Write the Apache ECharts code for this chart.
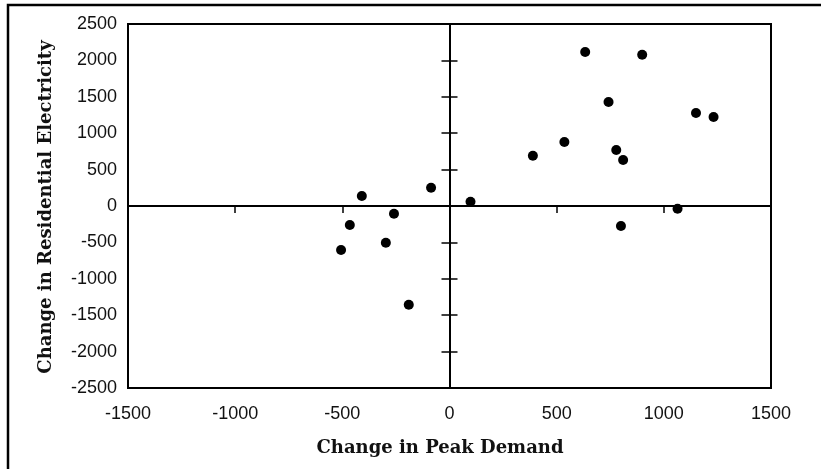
<!DOCTYPE html>
<html>
<head>
    <meta charset="UTF-8">
    <title>Peak demand vs residential electricity</title>
    <script src="https://cdn.jsdelivr.net/npm/echarts@6/dist/echarts.min.js"></script>
    <style>
        html, body { margin: 0; padding: 0; background: #fff; }
        #chart { width: 821px; height: 469px; }
    </style>
</head>
<body>
<div id="chart"></div>
<script>
    // change in peak demand (x) / change in residential electricity (y)
    const peakDemand = [633, 899, 742, 1150, 1232, 536, 389, 778, 810, -86, 98, 1064, 800,
        -409, -259, -465, -506, -297, -190]
    const residential = [2115, 2078, 1428, 1277, 1222, 879, 691, 769, 632, 251, 59, -37, -275,
        137, -106, -261, -604, -504, -1356]
    const xRange = [-1500, 1500]
    const yRange = [-2500, 2500]
    const xTitle = 'Change in Peak Demand'
    const yTitle = 'Change in Residential Electricity'

    const points = peakDemand.map((x, i) => [x, residential[i]])

    const tickFont = {fontFamily: 'Liberation Sans', fontSize: 18, color: '#111', formatter: v => String(v)}
    const titleStyle = {fontFamily: 'DejaVu Serif', fontWeight: 'bold', fontSize: 18, fill: '#111',
        textAlign: 'center', textVerticalAlign: 'middle'}

    let chart = echarts.init(document.getElementById('chart'), null, {renderer: 'canvas'})
    chart.setOption({
        animation: false,
        grid: {
            left: 128, right: 50, top: 24, bottom: 81,
            show: true, borderColor: '#000', borderWidth: 2, backgroundColor: 'transparent'
        },
        graphic: [{
            type: 'rect',
            shape: {x: 8, y: 5, width: 900, height: 600},
            style: {fill: 'none', stroke: '#000', lineWidth: 2.5},
            silent: true
        }, {
            type: 'text',
            x: 440, y: 448,
            style: Object.assign({text: xTitle}, titleStyle)
        }, {
            type: 'text',
            rotation: Math.PI / 2,
            x: 46, y: 207,
            style: Object.assign({text: yTitle}, titleStyle)
        }],
        xAxis: [{
            // labels along the bottom frame
            type: 'value', position: 'bottom', min: xRange[0], max: xRange[1], interval: 500,
            axisLine: {show: false, onZero: false},
            axisTick: {show: false},
            splitLine: {show: false},
            axisLabel: Object.assign({margin: 17}, tickFont)
        }, {
            // crossing line at y = 0
            type: 'value', position: 'bottom', min: xRange[0], max: xRange[1], interval: 500,
            axisLine: {show: true, onZero: true, lineStyle: {color: '#000', width: 2}},
            axisTick: {show: true, inside: false, length: 7, lineStyle: {color: '#000', width: 1.5}},
            splitLine: {show: false},
            axisLabel: {show: false}
        }],
        yAxis: [{
            type: 'value', position: 'left', min: yRange[0], max: yRange[1], interval: 500,
            axisLine: {show: false, onZero: false},
            axisTick: {show: false},
            splitLine: {show: false},
            axisLabel: Object.assign({margin: 11}, tickFont)
        }, {
            type: 'value', position: 'left', min: yRange[0], max: yRange[1], interval: 500,
            axisLine: {show: true, onZero: true, lineStyle: {color: '#000', width: 2}},
            axisTick: {show: true, inside: false, length: 8, lineStyle: {color: '#000', width: 1.5}},
            splitLine: {show: false},
            axisLabel: {show: false}
        }, {
            type: 'value', position: 'right', min: yRange[0], max: yRange[1], interval: 500,
            axisLine: {show: false, onZero: true},
            axisTick: {show: true, inside: false, length: 8, lineStyle: {color: '#000', width: 1.5}},
            splitLine: {show: false},
            axisLabel: {show: false}
        }],
        series: [{
            type: 'scatter',
            xAxisIndex: 0,
            yAxisIndex: 0,
            data: points,
            symbol: 'circle',
            symbolSize: 10,
            itemStyle: {color: '#000', opacity: 1}
        }]
    })
</script>
</body>
</html>
